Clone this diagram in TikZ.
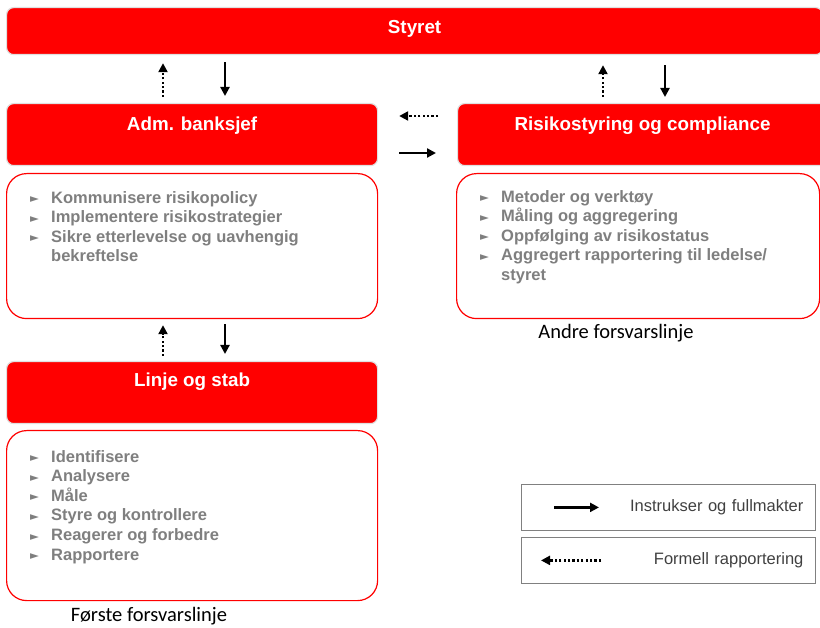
\documentclass[tikz,border=0pt]{standalone}
\usepackage{fontspec}
\setmainfont{Liberation Sans}
\newfontfamily\linjefont{Carlito}
\newfontfamily\symbolfont{DejaVu Sans}
\usetikzlibrary{arrows.meta,positioning}
\definecolor{rodt}{RGB}{255,0,0}
\definecolor{graatekst}{RGB}{127,127,127}
\definecolor{legendtekst}{RGB}{64,64,64}
\newcommand{\pkt}{\makebox[21pt][l]{\raisebox{0.5pt}{\symbolfont\fontsize{11.5}{11.5}\selectfont ►}}}
\newcommand{\innrykk}{\hspace*{21pt}}
\begin{document}
\begin{tikzpicture}[x=1pt,y=-1pt,
  overskrift/.style={rectangle,rounded corners=7pt,fill=rodt,draw=black!12,line width=1.2pt,
    text=white,font=\bfseries\fontsize{18.8}{22}\selectfont,anchor=north west,inner sep=0pt,
    text height=27pt,text depth=35pt},
  liste/.style={rectangle,rounded corners=20pt,draw=rodt,line width=1.2pt,fill=white,
    anchor=north west,inner sep=0pt},
  punkter/.style={align=left,inner sep=0pt,text=graatekst,
    font=\bfseries\fontsize{16.5}{19.6}\selectfont},
  linjenavn/.style={font=\linjefont\fontsize{20.5}{23}\selectfont},
  legende/.style={rectangle,draw=black!50,line width=0.8pt,anchor=north west,
    minimum width=294pt,minimum height=46pt,text width=270pt,inner xsep=12pt,align=right,
    text=legendtekst,font=\fontsize{16.5}{19}\selectfont},
  instruks/.style={-{Triangle[length=9pt,width=9pt]},line width=2.2pt},
  rapport/.style={-{Triangle[length=9pt,width=9pt]},line width=2.2pt,dash pattern=on 2.2pt off 2.2pt}]
  \useasboundingbox (0,0) rectangle (820,628);
  \clip (0,0) rectangle (820,628);
  % styret og ledelsen
  \node[overskrift,minimum width=816pt,text height=26pt,text depth=21pt] (styret) at (6,7) {Styret};
  \node[overskrift,minimum width=371pt] (adm) at (6,103) {Adm. banksjef};
  \node[overskrift,minimum width=370pt] (risiko) at (457,103) {Risikostyring og compliance};
  \node[overskrift,minimum width=371pt,text height=25pt,text depth=37pt] (linje) at (6,361) {Linje og stab};
  % oppgaver
  \node[liste,minimum width=371pt,minimum height=145pt] (admliste) at (6,173) {};
  \node[punkter,below right=18pt and 24pt of admliste.north west] (admpunkter)
    {\pkt Kommunisere risikopolicy\\ \pkt Implementere risikostrategier\\
     \pkt Sikre etterlevelse og uavhengig\\ \innrykk bekreftelse};
  \node[liste,minimum width=363pt,minimum height=145pt] (risikoliste) at (456,173) {};
  \node[punkter,below right=17pt and 24pt of risikoliste.north west] (risikopunkter)
    {\pkt Metoder og verktøy\\ \pkt Måling og aggregering\\ \pkt Oppfølging av risikostatus\\
     \pkt Aggregert rapportering til ledelse/\\ \innrykk styret};
  \node[liste,minimum width=371pt,minimum height=170pt] (linjeliste) at (6,430) {};
  \node[punkter,below right=20pt and 24pt of linjeliste.north west] (linjepunkter)
    {\pkt Identifisere\\ \pkt Analysere\\ \pkt Måle\\ \pkt Styre og kontrollere\\
     \pkt Reagerer og forbedre\\ \pkt Rapportere};
  \node[linjenavn] (andre) at (616,333) {Andre forsvarslinje};
  \node[linjenavn] (forste) at (149,616) {Første forsvarslinje};
  % piler
  \draw[rapport,shorten <=6pt,shorten >=8pt] (adm.north -| 163,0) -- (styret.south -| 163,0);
  \draw[instruks,shorten <=7pt,shorten >=7pt] (styret.south -| 225,0) -- (adm.north -| 225,0);
  \draw[rapport,shorten <=6pt,shorten >=10pt] (risiko.north -| 603,0) -- (styret.south -| 603,0);
  \draw[instruks,shorten <=10pt,shorten >=6pt] (styret.south -| 665,0) -- (risiko.north -| 665,0);
  \draw[rapport,shorten <=19pt,shorten >=21pt] (risiko.west |- 0,116) -- (adm.east |- 0,116);
  \draw[instruks,shorten <=21pt,shorten >=21pt] (adm.east |- 0,153) -- (risiko.west |- 0,153);
  \draw[rapport,shorten <=5pt,shorten >=6pt] (linje.north -| 163,0) -- (admliste.south -| 163,0);
  \draw[instruks,shorten <=5pt,shorten >=7pt] (admliste.south -| 225,0) -- (linje.north -| 225,0);
  % forklaring
  \node[legende] (instrukser) at (521,484) {Instrukser og fullmakter};
  \node[legende] (rapportering) at (521,537) {Formell rapportering};
  \draw[instruks] ([xshift=33pt]instrukser.west) -- ([xshift=78pt]instrukser.west);
  \draw[rapport] ([xshift=80pt]rapportering.west) -- ([xshift=20pt]rapportering.west);
\end{tikzpicture}
\end{document}
